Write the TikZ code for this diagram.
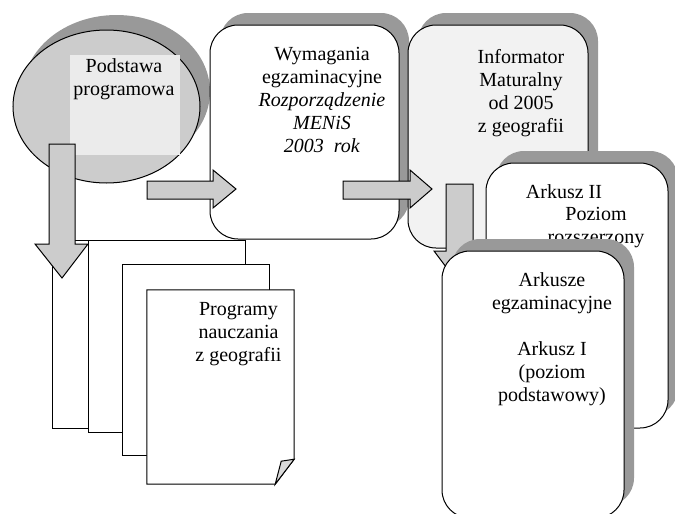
\documentclass[tikz,border=0pt]{standalone}
\usepackage{fontspec}
\setmainfont{Liberation Serif}
\usetikzlibrary{shapes.geometric, shadows, positioning}
\definecolor{shadowgray}{RGB}{153,153,153}
\definecolor{fillgray}{RGB}{204,204,204}
\definecolor{textgray}{RGB}{235,235,235}
\definecolor{palegray}{RGB}{242,242,242}
\definecolor{foldgray}{RGB}{217,217,217}
\tikzstyle{box} = [rectangle, draw, fill=white, rounded corners=28pt, line width=1pt, inner sep=0pt, drop shadow={shadow xshift=10pt, shadow yshift=12pt, fill=shadowgray, opacity=1}]
\tikzstyle{page} = [rectangle, draw, fill=white, line width=1pt, inner sep=0pt]
\tikzstyle{txt} = [align=center, inner sep=0pt, font=\fontsize{20pt}{23pt}\selectfont]
\tikzstyle{barrow} = [draw, fill=fillgray, line width=1pt]

\begin{document}
\begin{tikzpicture}[x=1pt, y=-1pt]
    \useasboundingbox (0,0) rectangle (675,514);
    % Podstawa programowa
    \node[ellipse, draw, fill=fillgray, line width=1pt, minimum width=187pt, minimum height=153pt, inner sep=0pt, drop shadow={shadow xshift=10pt, shadow yshift=15pt, fill=shadowgray, opacity=1}] (podst) at (106.5,106.5) {};
    \node[fill=textgray, minimum width=110pt, minimum height=100pt, inner sep=0pt] (podstbg) at (125,105) {};
    \node[txt, below=4pt of podstbg.north, xshift=-1pt] (podsttxt) {Podstawa\\programowa};

    % Programy nauczania
    \node[page, minimum width=193pt, minimum height=188pt] (pg1) at (148.5,334) {};
    \node[page, minimum width=157pt, minimum height=192pt] (pg2) at (166.5,336) {};
    \node[page, minimum width=147pt, minimum height=191pt] (pg3) at (195.5,359.5) {};
    \node[minimum width=147pt, minimum height=194pt, inner sep=0pt] (prog) at (220.5,387) {};
    \draw[fill=white, line width=1pt] (prog.north west) -- (prog.north east) -- ([yshift=25pt]prog.south east) -- ([xshift=-19pt]prog.south east) -- (prog.south west) -- cycle;
    \draw[fill=foldgray, line width=1pt] ([xshift=-19pt]prog.south east) -- ([xshift=-13pt, yshift=23pt]prog.south east) -- ([yshift=25pt]prog.south east) -- cycle;
    \node[txt, below=12pt of prog.north, xshift=18pt] (progtxt) {Programy\\nauczania\\z geografii};

    % Arrows
    \draw[barrow] (49,144) -- (75,144) -- (75,244) -- (88,244) -- (62,278) -- (35,244) -- (49,244) -- cycle;

    % Wymagania
    \node[box, minimum width=189pt, minimum height=214pt] (wym) at (304.5,132) {};
    \node[txt, below=23pt of wym.north, xshift=17.5pt] (wymtxt) {Wymagania\\egzaminacyjne\\\textit{Rozporządzenie}\\\textit{MENiS}\\\textit{2003\ \ rok}};
    \draw[barrow] (147,181) -- (213,181) -- (213,170) -- (236,189) -- (213,208) -- (213,199) -- (147,199) -- cycle;

    % Informator
    \node[box, fill=palegray, minimum width=180pt, minimum height=223pt] (inf) at (498,136.5) {};
    \node[txt, below=25pt of inf.north, xshift=23pt] (inftxt) {Informator\\Maturalny\\od 2005\\z geografii};
    \draw[barrow] (343,181) -- (410,181) -- (410,170) -- (432,189) -- (410,208) -- (410,199) -- (343,199) -- cycle;
    \draw[barrow] (446,184) -- (473,184) -- (473,251) -- (486,251) -- (459.5,285) -- (434,251) -- (446,251) -- cycle;

    % Arkusze
    \node[box, minimum width=182pt, minimum height=265pt] (ark2) at (577,295.5) {};
    \node[txt, below=22pt of ark2.north, xshift=-13pt] (ark2txt) {Arkusz II};
    \node[txt, below=45pt of ark2.north, xshift=19pt] (ark2lvl) {Poziom\\rozszerzony};
    \node[box, minimum width=182pt, minimum height=267pt] (arks) at (533,384.5) {};
    \node[txt, below=22pt of arks.north, xshift=19pt] (arkstxt) {Arkusze\\egzaminacyjne\\[23pt]Arkusz I\\(poziom\\podstawowy)};
\end{tikzpicture}
\end{document}
